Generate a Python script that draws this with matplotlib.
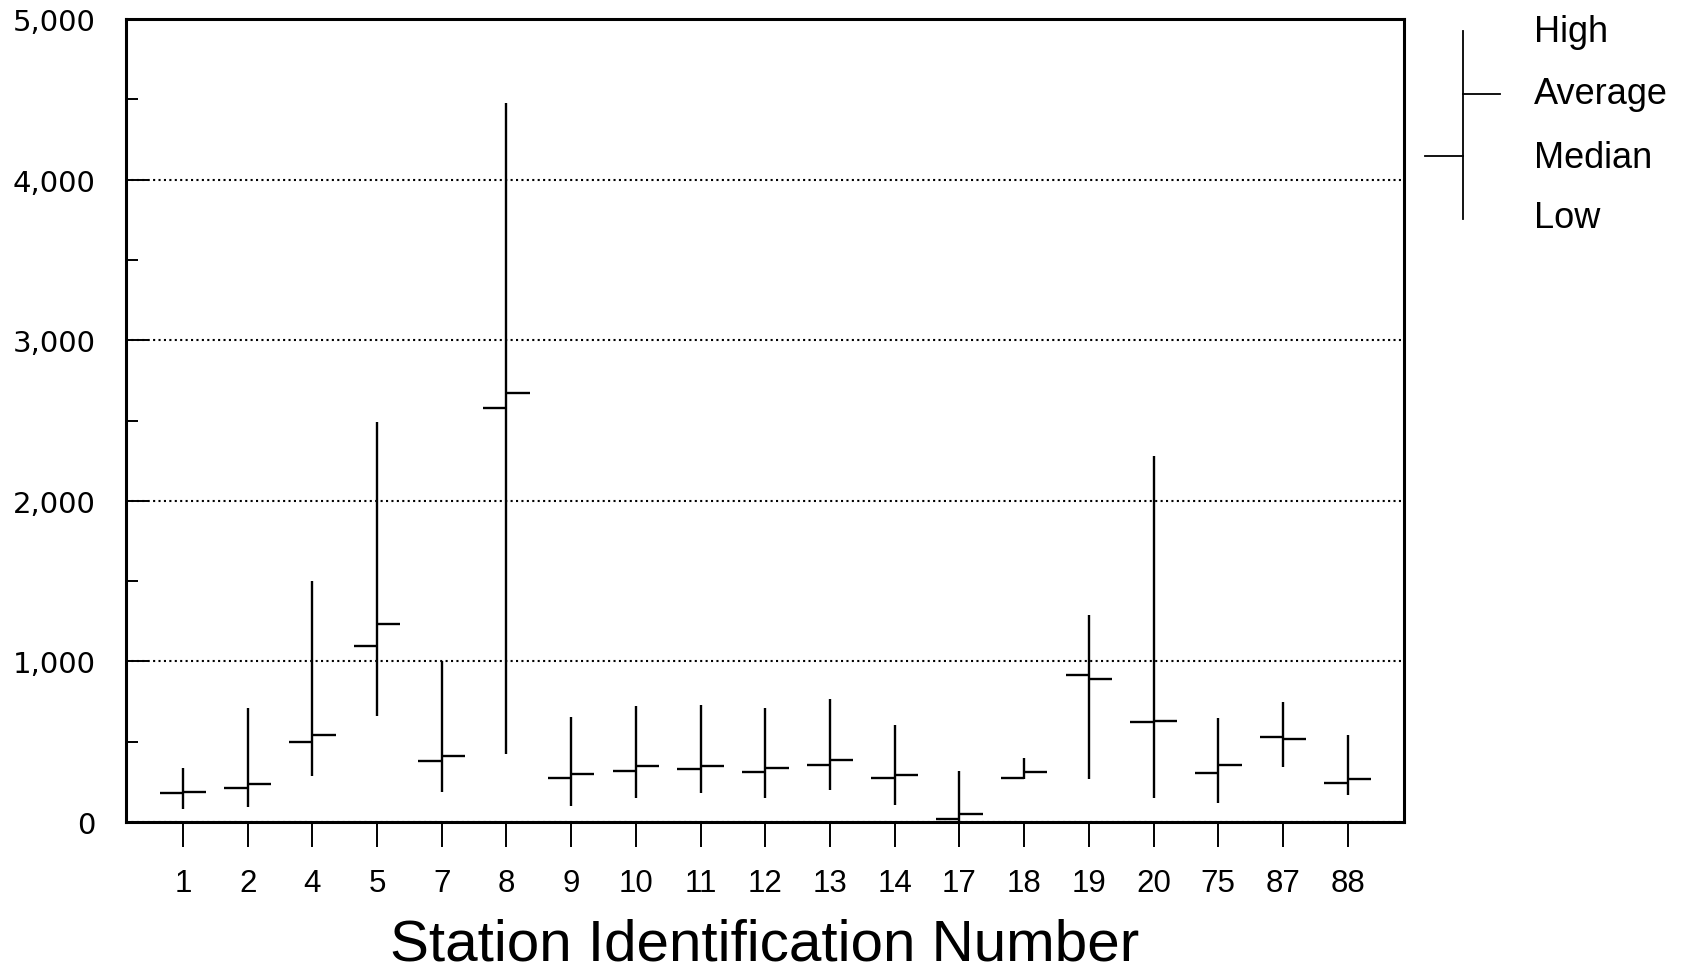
import matplotlib
matplotlib.use("Agg")
import matplotlib.pyplot as plt
from matplotlib.ticker import MultipleLocator, FuncFormatter
from matplotlib.lines import Line2D

plt.rcParams['font.family'] = ['Liberation Sans', 'DejaVu Sans']

# values
stations = ['1', '2', '4', '5', '7', '8', '9', '10', '11', '12', '13', '14',
            '17', '18', '19', '20', '75', '87', '88']
high = [335, 707, 1500, 2490, 1000, 4480, 653, 721, 730, 709, 766, 603,
        320, 397, 1292, 2280, 649, 750, 541]
low = [81, 91, 287, 663, 190, 426, 101, 149, 182, 151, 198, 109,
       5, 271, 271, 149, 118, 345, 169]
median = [183, 211, 498, 1093, 380, 2577, 275, 316, 333, 312, 355, 275,
          21, 275, 915, 624, 308, 531, 246]
average = [189, 236, 539, 1236, 411, 2672, 300, 347, 347, 335, 386, 291,
           50, 314, 889, 632, 353, 515, 267]

fig = plt.figure(figsize=(16.82, 9.70), dpi=100)
ax = fig.add_axes([0.0749, 0.1515, 0.7598, 0.8279])

x = list(range(len(stations)))
w = 0.36
lw = 1.7
ax.vlines(x, low, high, color='black', lw=lw)
ax.hlines(median, [i - w for i in x], x, color='black', lw=lw)
ax.hlines(average, x, [i + w for i in x], color='black', lw=lw)

ax.set_xlim(-0.88, len(stations) - 1 + 0.87)
ax.set_ylim(0, 5000)

ax.set_xticks(x)
ax.set_xticklabels(stations)
ax.tick_params(axis='x', direction='out', length=18, width=1.4,
               labelsize=22.5, pad=15)

ax.yaxis.set_major_locator(MultipleLocator(1000))
ax.yaxis.set_minor_locator(MultipleLocator(500))
ax.yaxis.set_major_formatter(FuncFormatter(lambda v, p: f'{int(v):,}'))
ax.tick_params(axis='y', which='major', direction='in', length=16.5,
               width=1.4, labelsize=21, pad=22)
ax.tick_params(axis='y', which='minor', direction='in', length=8.6, width=1.4)
for lab in ax.get_yticklabels():
    lab.set_family(['DejaVu Sans'])

ax.yaxis.grid(True, which='major', linestyle=(0, (1, 1.6)), color='black', lw=1.5)
ax.set_axisbelow(True)

for side in ['left', 'bottom', 'right', 'top']:
    ax.spines[side].set_linewidth(2.2)
    ax.spines[side].set_color('black')

ax.set_xlabel('Station Identification Number', fontsize=42, labelpad=14)

# key on the right
key = fig.add_axes([0, 0, 1, 1], facecolor='none')
key.set_xlim(0, 1682)
key.set_ylim(970, 0)
key.axis('off')
key.add_line(Line2D([1463, 1463], [32, 220], color='black', lw=1.3))
key.add_line(Line2D([1463, 1500], [95, 95], color='black', lw=1.3))
key.add_line(Line2D([1425, 1463], [157, 157], color='black', lw=1.3))
for lbl, yy in [('High', 33), ('Average', 95), ('Median', 158), ('Low', 219)]:
    key.text(1534, yy, lbl, fontsize=26, va='center', ha='left')

fig.savefig('out.png', dpi=100)
